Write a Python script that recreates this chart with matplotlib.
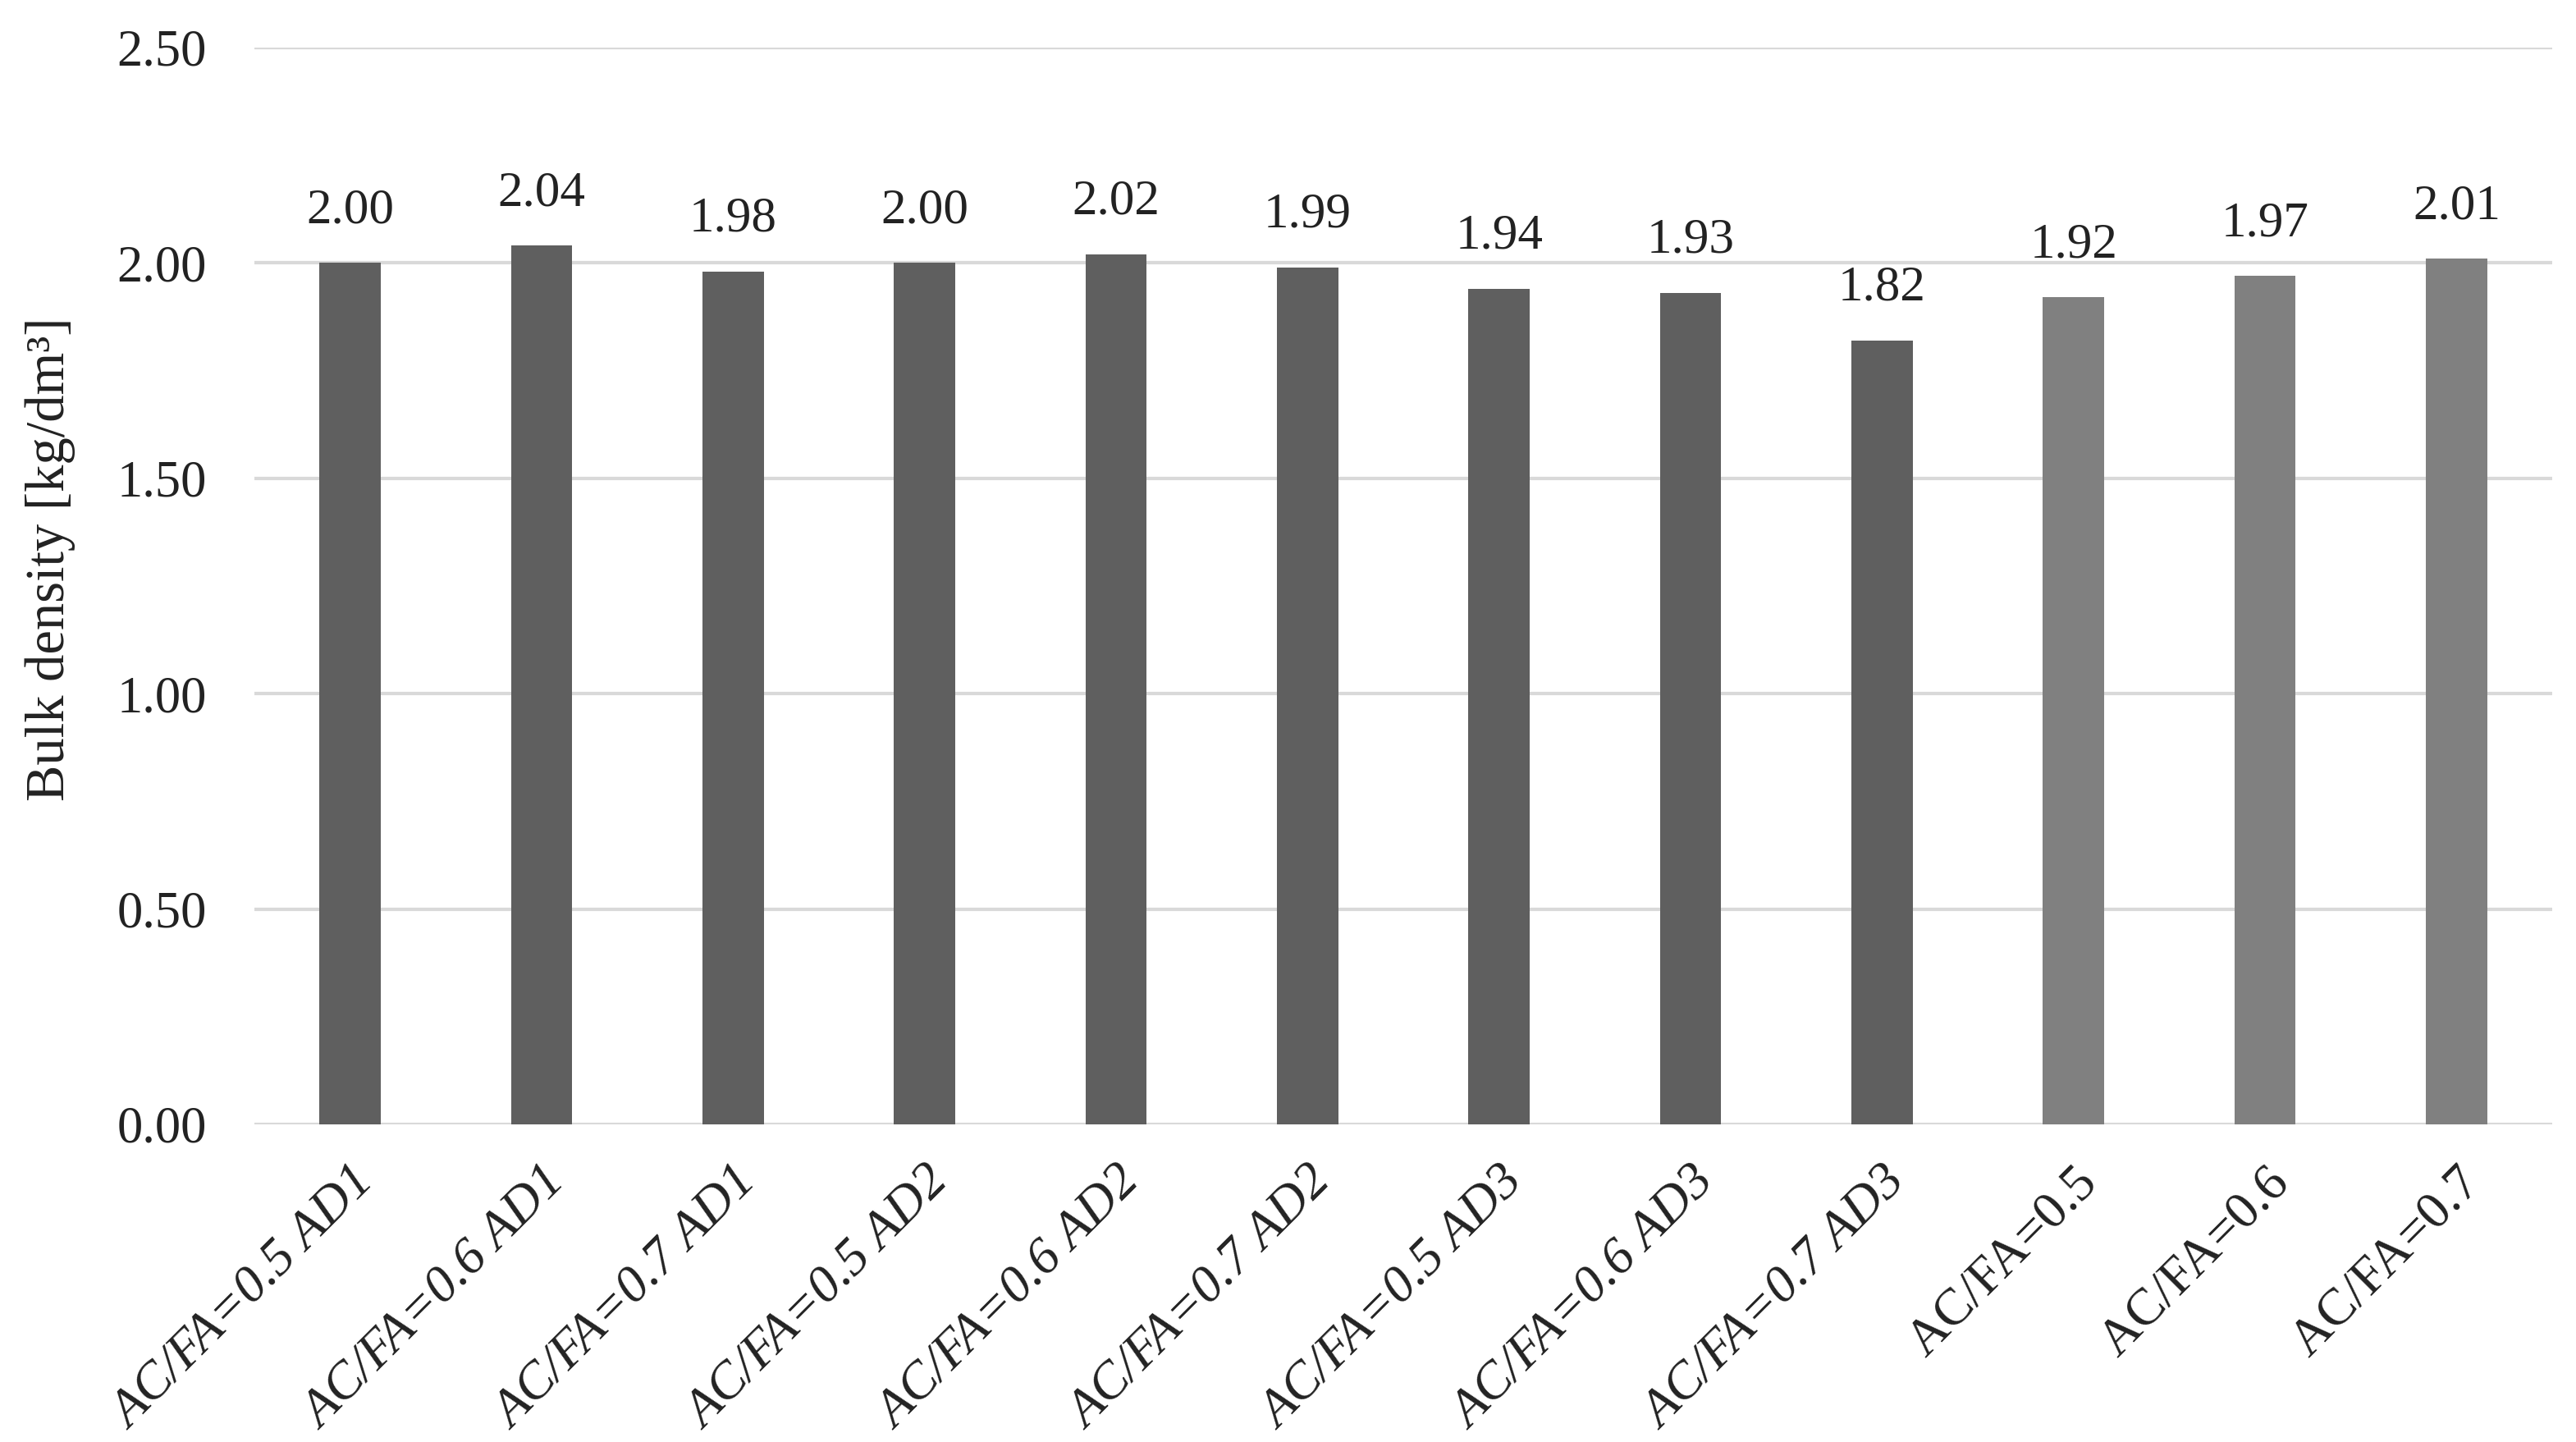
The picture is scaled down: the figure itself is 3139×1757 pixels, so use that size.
import matplotlib
matplotlib.use("Agg")
import matplotlib.pyplot as plt
import numpy as np

categories = ["AC/FA=0.5 AD1", "AC/FA=0.6 AD1", "AC/FA=0.7 AD1",
              "AC/FA=0.5 AD2", "AC/FA=0.6 AD2", "AC/FA=0.7 AD2",
              "AC/FA=0.5 AD3", "AC/FA=0.6 AD3", "AC/FA=0.7 AD3",
              "AC/FA=0.5", "AC/FA=0.6", "AC/FA=0.7"]
values = [2.00, 2.04, 1.98, 2.00, 2.02, 1.99, 1.94, 1.93, 1.82, 1.92, 1.97, 2.01]
yticks = [0.00, 0.50, 1.00, 1.50, 2.00, 2.50]
dark_color = "#5f5f5f"
light_color = "#808080"
colors = [dark_color] * 9 + [light_color] * 3
italic = [True] * 9 + [False] * 3

plt.rcParams['font.family'] = ['Liberation Serif', 'DejaVu Serif']

fig = plt.figure(figsize=(31.39, 17.57), dpi=100)
ax = fig.add_axes([0.0988, 0.2203, 0.892, 0.7467])

x = np.arange(len(categories))
bars = ax.bar(x, values, width=0.32, color=colors, zorder=3)

ax.set_xlim(-0.5, len(categories) - 0.5)
ax.set_ylim(0, 2.5)
ax.set_yticks(yticks)
ax.set_yticklabels([f"{v:.2f}" for v in yticks], fontsize=45, color="#222222")
ax.yaxis.grid(True, color="#d9d9d9", linewidth=3, zorder=0)
ax.set_axisbelow(True)
for s in ["top", "right", "left", "bottom"]:
    ax.spines[s].set_visible(False)
ax.tick_params(axis="y", length=0, pad=42)
ax.tick_params(axis="x", length=0, pad=30)

ax.set_xticks(x)
ax.set_xticklabels(categories, rotation=45, ha="right", rotation_mode="anchor",
                   fontsize=46, color="#222222")
for lbl, it in zip(ax.get_xticklabels(), italic):
    if it:
        lbl.set_style("italic")

for xi, v in zip(x, values):
    ax.annotate(f"{v:.2f}", (xi, v), xytext=(0, 26), textcoords="offset points",
                ha="center", va="bottom", fontsize=44, color="#222222")

ax.set_ylabel("Bulk density [kg/dm³]", fontsize=48, color="#222222")
ax.yaxis.set_label_coords(-0.078, 0.525)

fig.savefig("out.png", dpi=100, facecolor="white")
